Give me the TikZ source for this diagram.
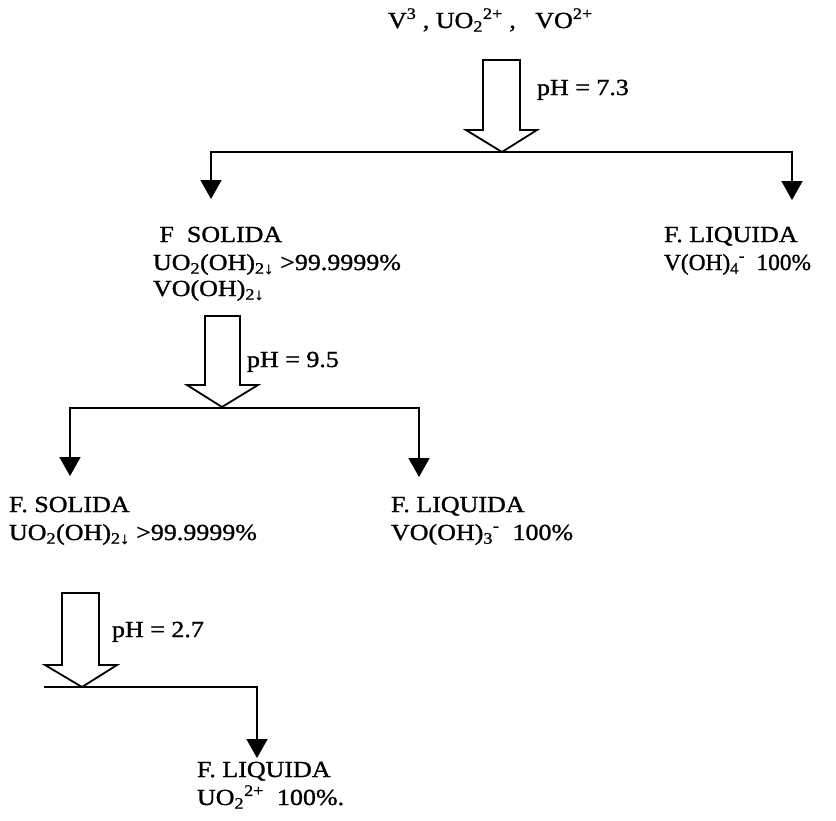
\documentclass[tikz,border=0pt]{standalone}
\usepackage{fontspec}
\usepackage{graphicx}
\setmainfont{Liberation Serif}[FakeStretch=1.13,FakeBold=1.2]
\usetikzlibrary{arrows.meta}
\begin{document}
\begin{tikzpicture}[x=1pt,y=-1pt,
  txt/.style={anchor=base west,inner sep=0pt,outer sep=0pt,font=\fontsize{23}{27}\selectfont},
  conn/.style={line width=1.8pt,line cap=rect},
  branch/.style={line width=1.8pt,-{Triangle[length=19pt,width=21pt]}},
  hollow/.style={line width=1.8pt,fill=white,line join=miter}]
\useasboundingbox (0,0) rectangle (836,820);

% texts
\node[txt] (src) at (388,28) {V\textsuperscript{3} , UO\textsubscript{2}\textsuperscript{2+} ,\ \ \ VO\textsuperscript{2+}};
\node[txt] (ph1) at (537,95) {pH = 7.3};
\node[txt] (s1a) at (153,242) {\ F\ \ SOLIDA};
\node[txt] (s1b) at (153,270) {UO\textsubscript{2}(OH)\textsubscript{2↓} >99.9999\%};
\node[txt] (s1c) at (153,296) {VO(OH)\textsubscript{2↓}};
\node[txt] (l1a) at (664,242) {F. LIQUIDA};
\node[txt] (l1b) at (664,270) {\scalebox{0.9}[1]{V(OH)\textsubscript{4}\textsuperscript{-}\ \ 100\%}};
\node[txt] (ph2) at (247,367) {pH = 9.5};
\node[txt] (s2a) at (9,512) {F. SOLIDA};
\node[txt] (s2b) at (9,540) {UO\textsubscript{2}(OH)\textsubscript{2↓} >99.9999\%};
\node[txt] (l2a) at (391,512) {F. LIQUIDA};
\node[txt] (l2b) at (391,540) {VO(OH)\textsubscript{3}\textsuperscript{-}\ \ 100\%};
\node[txt] (ph3) at (112,637) {pH = 2.7};
\node[txt] (l3a) at (197,777) {F. LIQUIDA};
\node[txt] (l3b) at (197,805) {UO\textsubscript{2}\textsuperscript{2+}\ \ 100\%.};

% branch coordinates
\coordinate (b1l) at (211,152); \coordinate (b1r) at (792,152);
\coordinate (e1l) at (211,199); \coordinate (e1r) at (792,200);
\coordinate (b2l) at (70,408);  \coordinate (b2r) at (419,408);
\coordinate (e2l) at (70,476);  \coordinate (e2r) at (419,477);
\coordinate (b3l) at (45,687);  \coordinate (b3r) at (257,687);
\coordinate (e3r) at (257,758);

\draw[conn] (b1l) -- (b1r);
\draw[branch] (b1l) -- (e1l);
\draw[branch] (b1r) -- (e1r);
\draw[conn] (b2l) -- (b2r);
\draw[branch] (b2l) -- (e2l);
\draw[branch] (b2r) -- (e2r);
\draw[conn] (b3l) -- (b3r);
\draw[branch] (b3r) -- (e3r);

% hollow process arrows
\draw[hollow] (483,60) -- (520,60) -- (520,130) -- (537,130) -- (502,152) -- (466,130) -- (483,130) -- cycle;
\draw[hollow] (205,316) -- (240,316) -- (240,385) -- (258,385) -- (222,407) -- (187,385) -- (205,385) -- cycle;
\draw[hollow] (62,593) -- (99,593) -- (99,665) -- (117,665) -- (82,687) -- (45,665) -- (62,665) -- cycle;
\end{tikzpicture}
\end{document}
